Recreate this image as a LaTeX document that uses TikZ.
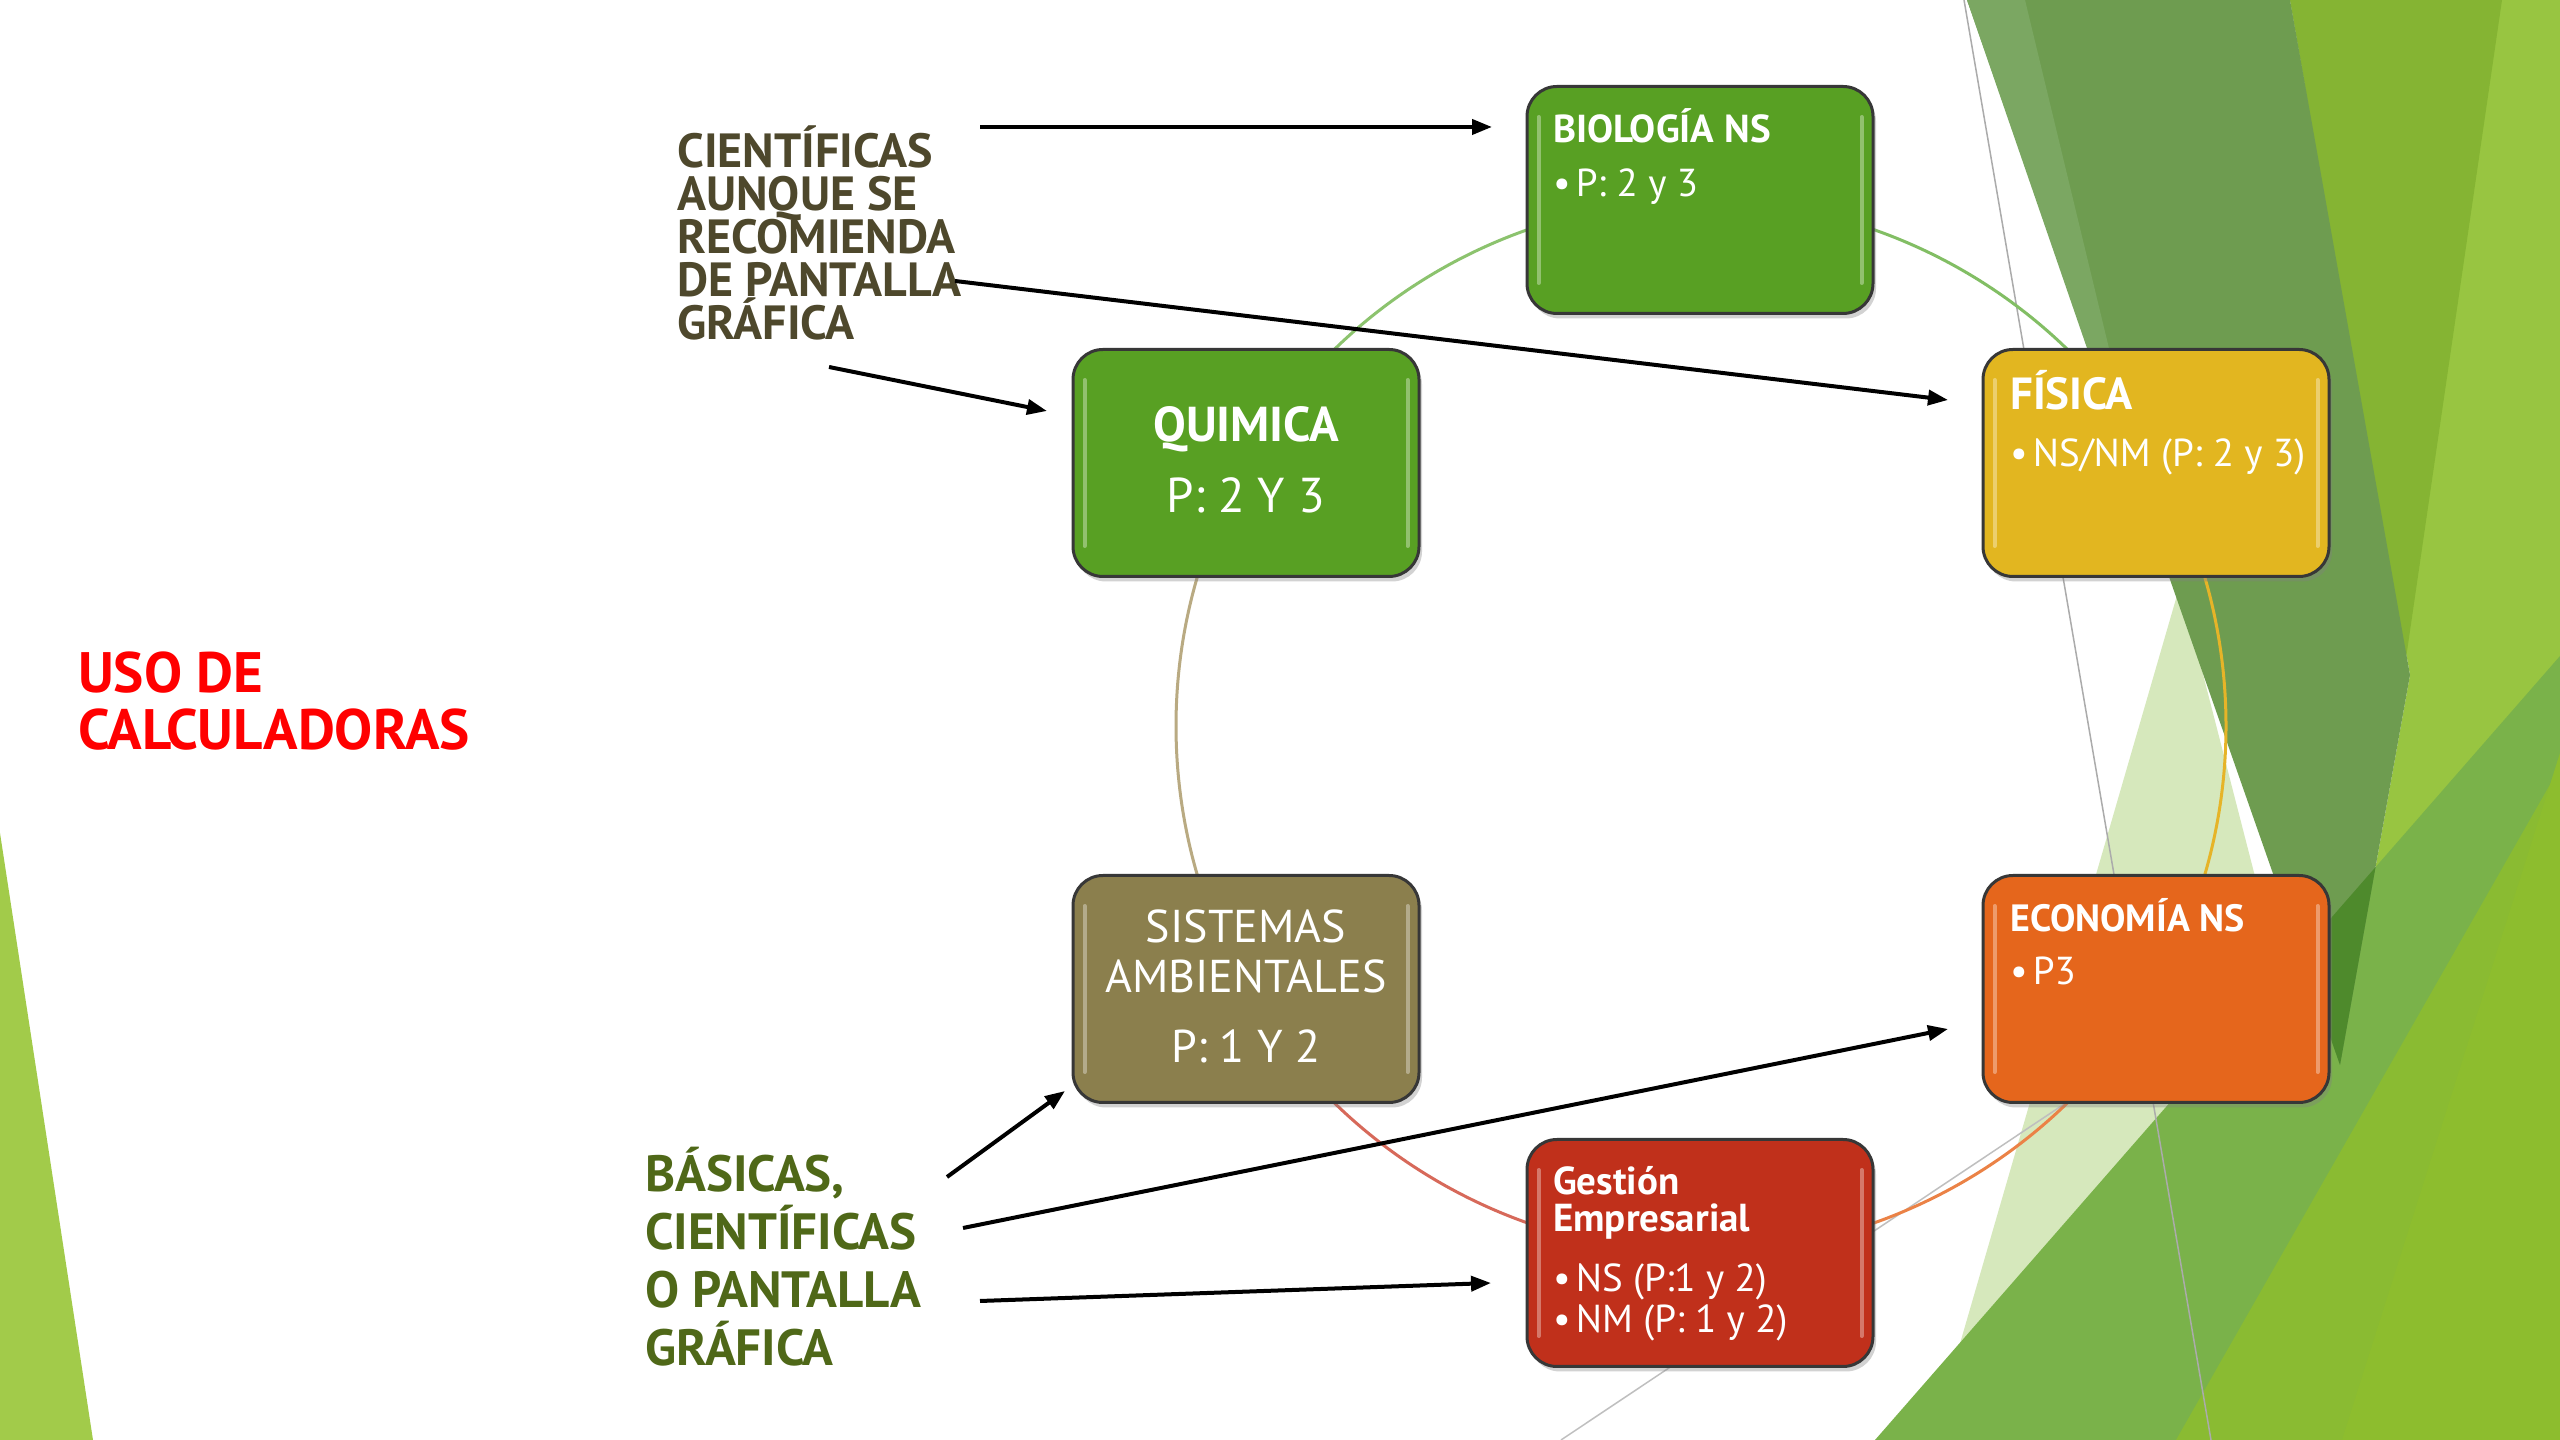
\documentclass[tikz,border=0pt]{standalone}
\usepackage{fontspec}
\setmainfont{PT Sans}
\usetikzlibrary{arrows.meta,shadows}
\definecolor{cBio}{RGB}{88,160,35}
\definecolor{cFis}{RGB}{226,182,32}
\definecolor{cSis}{RGB}{139,127,77}
\definecolor{cGes}{RGB}{192,48,27}
\definecolor{cEco}{RGB}{229,102,28}
\definecolor{cBorder}{RGB}{55,55,55}
\definecolor{cTopLbl}{RGB}{78,72,44}
\definecolor{cBotLbl}{RGB}{79,104,24}
\definecolor{cPale}{RGB}{214,232,188}
\definecolor{cBase}{RGB}{152,197,65}
\definecolor{cMed}{RGB}{122,178,74}
\definecolor{cYg}{RGB}{133,180,51}
\definecolor{cYg2}{RGB}{141,189,46}
\definecolor{cDark}{RGB}{110,156,80}
\definecolor{cDarker}{RGB}{78,138,44}
\definecolor{cStrip}{RGB}{123,167,98}
\definecolor{cLeftTri}{RGB}{162,203,74}
\newcommand\myfs[2]{\fontsize{#1}{#2}\selectfont}
\newcommand\vlines[2]{\vtop{\baselineskip=#1\lineskiplimit=-1000pt\relax #2}}
\pgfdeclarelayer{bg}
\pgfdeclarelayer{arcs}
\pgfsetlayers{bg,arcs,main}
\begin{document}
\begin{tikzpicture}[x=1pt,y=1pt,
  box/.style={rounded corners=30pt, draw=cBorder, line width=3pt,
    minimum width=346pt, minimum height=227pt, inner sep=0pt,
    drop shadow={shadow xshift=3pt,shadow yshift=-5pt,opacity=.35}},
  hl/.style={white, opacity=.35, line width=4pt, line cap=round},
  txt/.style={inner sep=0pt, text=white, anchor=base west},
  ctxt/.style={inner sep=0pt, text=white, anchor=base},
  lbl/.style={inner sep=0pt, anchor=base west, font=\bfseries},
  arr/.style={line width=4pt, -{Triangle[length=20pt,width=15pt]}},
  ring/.style={line width=3pt, bend left=30, looseness=0.91}]
\useasboundingbox (0,0) rectangle (2560,1440);

% background
\begin{pgfonlayer}{bg}
\fill[white] (0,0) rectangle (2560,1440);
\fill[cLeftTri] (0,607) -- (93,0) -- (0,0) -- cycle;
\fill[cBase] (2290,1440) -- (2560,1440) -- (2560,0) -- (2200,0) -- (2340,375) -- (2410,765) -- cycle;
\fill[cPale] (2180,855) -- (1932,0) -- (2400,0) -- cycle;
\fill[cMed] (1875,0) -- (2560,784) -- (2560,0) -- cycle;
\fill[cYg2!85!cMed] (2176,0) -- (2560,673) -- (2560,0) -- cycle;
\fill[cYg2] (2342,0) -- (2560,687) -- (2560,0) -- cycle;
\fill[cYg] (2290,1440) -- (2502,1440) -- (2405,775) -- cycle;
\fill[cDark] (1967,1440) -- (2290,1440) -- (2410,765) -- (2340,375) -- cycle;
\begin{scope}
\clip (1967,1440) -- (2290,1440) -- (2410,765) -- (2340,375) -- cycle;
\fill[cDarker] (1875,0) -- (2560,784) -- (2560,0) -- cycle;
\end{scope}
\fill[cStrip] (1967,1440) -- (2025,1440) -- (2160,880) -- cycle;
\draw[black!33, line width=1.5pt] (1964,1440) -- (2211,0);
\draw[black!25, line width=1.5pt] (2250,460) -- (1561,0);
\end{pgfonlayer}

% boxes
\node[box, fill=cBio] (bio) at (1700,1240) {};
\node[box, fill=cFis] (fis) at (2156,977) {};
\node[box, fill=cEco] (eco) at (2156,451) {};
\node[box, fill=cGes] (ges) at (1700,187) {};
\node[box, fill=cSis] (sis) at (1246,451) {};
\node[box, fill=cBio] (qui) at (1246,977) {};
\foreach \n in {bio,fis,eco,ges,sis,qui}{
  \draw[hl] ([xshift=13pt,yshift=32pt]\n.south west) -- ([xshift=13pt,yshift=-32pt]\n.north west);
  \draw[hl] ([xshift=-13pt,yshift=32pt]\n.south east) -- ([xshift=-13pt,yshift=-32pt]\n.north east);
}

% ring connectors
\begin{pgfonlayer}{arcs}
\draw[ring, draw={rgb,255:red,130;green,190;blue,100}] (bio.center) to (fis.center);
\draw[ring, draw={rgb,255:red,230;green,180;blue,40}] (fis.center) to (eco.center);
\draw[ring, draw={rgb,255:red,235;green,130;blue,70}] (eco.center) to (ges.center);
\draw[ring, draw={rgb,255:red,215;green,105;blue,90}] (ges.center) to (sis.center);
\draw[ring, draw={rgb,255:red,185;green,170;blue,130}] (sis.center) to (qui.center);
\draw[ring, draw={rgb,255:red,140;green,195;blue,110}] (qui.center) to (bio.center);
\end{pgfonlayer}

% box texts
\node[txt, font=\myfs{39}{44}\bfseries] (bioT) at (1553,1297) {BIOLOGÍA NS};
\node[txt, font=\myfs{39}{44}] (bioB) at (1553,1243) {\textbullet\hspace{5pt}P: 2 y 3};
\node[txt, font=\myfs{45}{50}\bfseries] (fisT) at (2010,1030) {FÍSICA};
\node[txt, font=\myfs{39}{44}] (fisB) at (2010,973) {\textbullet\hspace{5pt}NS/NM (P: 2 y 3)};
\node[ctxt, font=\myfs{49}{54}\bfseries] (quiT) at (1246,998) {QUIMICA};
\node[ctxt, font=\myfs{49}{54}] (quiB) at (1246,927) {P: 2 Y 3};
\node[ctxt, font=\myfs{46}{50}] (sisT1) at (1246,497) {SISTEMAS};
\node[ctxt, font=\myfs{46}{50}] (sisT2) at (1246,447) {AMBIENTALES};
\node[ctxt, font=\myfs{46}{50}] (sisB) at (1246,377) {P: 1 Y 2};
\node[txt, font=\myfs{39}{37}\bfseries] (gesT) at (1553,245) {\vlines{37pt}{\hbox{Gestión}\hbox{Empresarial}}};
\node[txt, font=\myfs{39}{41}] (gesB) at (1553,148) {\vlines{41pt}{\hbox{\textbullet\hspace{5pt}NS (P:1 y 2)}\hbox{\textbullet\hspace{5pt}NM (P: 1 y 2)}}};
\node[txt, font=\myfs{38}{44}\bfseries] (ecoT) at (2010,508) {ECONOMÍA NS};
\node[txt, font=\myfs{39}{44}] (ecoB) at (2010,455) {\textbullet\hspace{5pt}P3};

% side labels
\node[lbl, text=cTopLbl, font=\myfs{48}{43}\bfseries] (topLbl) at (677,1272)
  {\vlines{43pt}{\hbox{CIENTÍFICAS}\hbox{AUNQUE SE}\hbox{RECOMIENDA}\hbox{DE PANTALLA}\hbox{GRÁFICA}}};
\node[lbl, text=cBotLbl, font=\myfs{51}{58}\bfseries] (botLbl) at (645,248)
  {\vlines{58pt}{\hbox{BÁSICAS,}\hbox{CIENTÍFICAS}\hbox{O PANTALLA}\hbox{GRÁFICA}}};
\node[lbl, text=red, font=\myfs{57}{57}\bfseries] (title) at (78,747)
  {\vlines{57pt}{\hbox{USO DE}\hbox{CALCULADORAS}}};

% arrows
\coordinate (a1s) at (980,1313);  \coordinate (a1e) at (1492,1313);
\coordinate (a2s) at (955,1159);  \coordinate (a2e) at (1948,1040);
\coordinate (a3s) at (829,1073);  \coordinate (a3e) at (1047,1029);
\coordinate (a4s) at (947,263);   \coordinate (a4e) at (1065,349);
\coordinate (a5s) at (963,212);   \coordinate (a5e) at (1948,411);
\coordinate (a6s) at (980,139);   \coordinate (a6e) at (1491,157);
\draw[arr] (a1s) -- (a1e);
\draw[arr] (a2s) -- (a2e);
\draw[arr] (a3s) -- (a3e);
\draw[arr] (a4s) -- (a4e);
\draw[arr] (a5s) -- (a5e);
\draw[arr] (a6s) -- (a6e);
\end{tikzpicture}
\end{document}
